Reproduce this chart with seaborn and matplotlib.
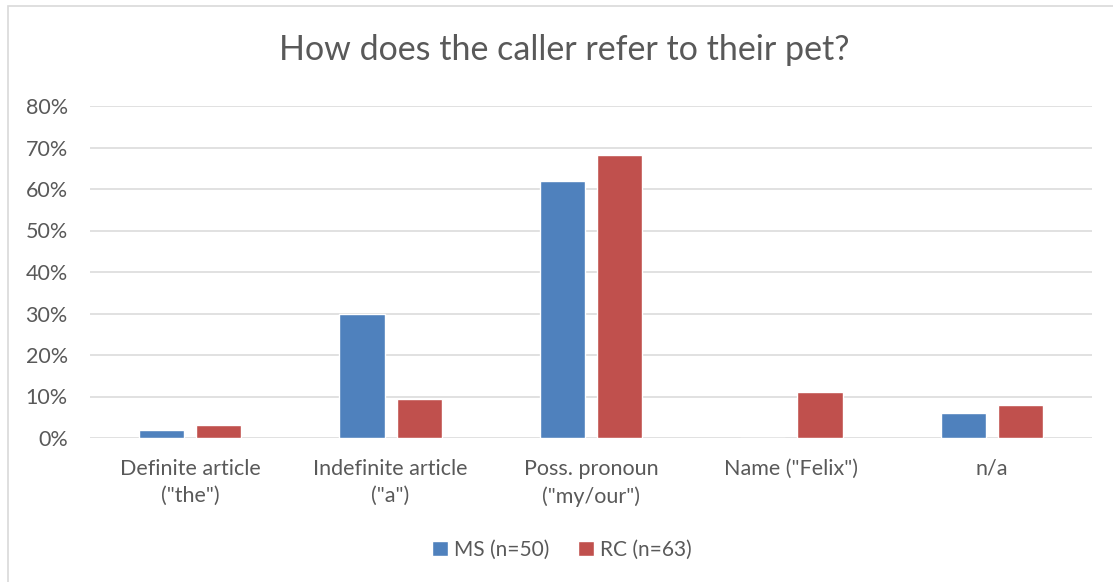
import seaborn as sns
import pandas as pd
import matplotlib.pyplot as plt
from matplotlib.patches import Rectangle
from matplotlib.ticker import PercentFormatter

categories = ['Definite article\n("the")', 'Indefinite article\n("a")',
              'Poss. pronoun\n("my/our")', 'Name ("Felix")', 'n/a']
ms_values = [0.02, 0.30, 0.62, 0.0, 0.06]
rc_values = [0.032, 0.095, 0.6825, 0.111, 0.079]
series = ['MS (n=50)', 'RC (n=63)']
colors = ['#4F81BD', '#C0504D']

df = pd.DataFrame({
    'category': categories * 2,
    'value': ms_values + rc_values,
    'series': [series[0]] * 5 + [series[1]] * 5,
})

sns.set_theme(style='white')
plt.rcParams['font.family'] = ['Lato', 'DejaVu Sans']
txt = '#595959'

fig = plt.figure(figsize=(11.13, 5.82), dpi=100)
ax = fig.add_axes([90 / 1113, 1 - 438 / 582, 1002 / 1113, 332 / 582])

sns.barplot(data=df, x='category', y='value', hue='series', palette=colors,
            width=0.57, gap=0.21, ax=ax, saturation=1, legend=True)

ax.set_ylim(0, 0.8)
ax.set_xlim(-0.5, 4.5)
ax.yaxis.set_major_formatter(PercentFormatter(1.0, decimals=0))
ax.set_yticks([i / 10 for i in range(9)])
ax.grid(axis='y', color='#D9D9D9', linewidth=1.1)
ax.set_axisbelow(True)
for s in ax.spines.values():
    s.set_visible(False)
ax.set_xlabel('')
ax.set_ylabel('')
ax.tick_params(axis='y', colors=txt, labelsize=15.5, length=0, pad=16)
ax.tick_params(axis='x', colors=txt, labelsize=15.5, length=0, pad=15)
for lab in ax.get_xticklabels():
    lab.set_linespacing(1.45)

fig.text(564 / 1113, 1 - 50 / 582, 'How does the caller refer to their pet?',
         ha='center', va='center', fontsize=24.5, color=txt)

handles, labels = ax.get_legend_handles_labels()
ax.legend_.remove()
fig.legend(handles, labels, loc='center', bbox_to_anchor=(562 / 1113, 1 - 550 / 582),
           ncol=2, frameon=False, fontsize=15, labelcolor=txt,
           handlelength=0.75, handleheight=0.75, handletextpad=0.3, columnspacing=1.4)

fig.patches.append(Rectangle((8 / 1113, -0.1), 1.2, 1 - 6 / 582 + 0.1,
                             transform=fig.transFigure, fill=False,
                             edgecolor='#D9D9D9', linewidth=1.2))

fig.savefig('out.png', dpi=100, facecolor='white')
